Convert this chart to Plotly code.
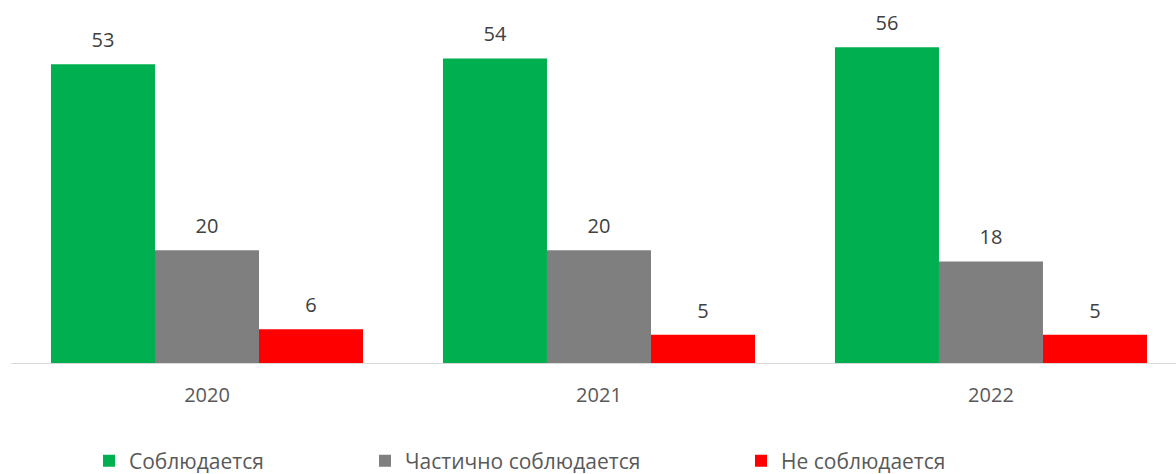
import plotly.graph_objects as go

years = ["2020", "2021", "2022"]
series_names = ["Соблюдается", "Частично соблюдается", "Не соблюдается"]
observed = [53, 54, 56]
partial = [20, 20, 18]
not_observed = [6, 5, 5]
colors = ["#00B050", "#7F7F7F", "#FF0000"]

values = [observed, partial, not_observed]
legend_ids = ["legend", "legend2", "legend3"]

fig = go.Figure()
for name, vals, col, lg in zip(series_names, values, colors, legend_ids):
    fig.add_trace(go.Bar(
        x=years, y=vals, name=name, marker=dict(color=col, line=dict(width=0)),
        legend=lg, offsetgroup=name,
    ))
for name, vals in zip(series_names, values):
    fig.add_trace(go.Scatter(
        x=years, y=vals, mode="markers+text", text=[str(v) for v in vals],
        textposition="top center", marker=dict(size=18, opacity=0),
        textfont=dict(size=20, color="#404040", family="Open Sans"),
        showlegend=False, offsetgroup=name, cliponaxis=False, hoverinfo="skip",
    ))

L, T, W, H = 11, 0, 1176, 474
plot_h = 363

def cx(px):
    return px / W

def cy(py):
    return 1 - py / H

legend_common = dict(orientation="h", yanchor="middle", xanchor="left",
                     xref="container", yref="container",
                     font=dict(size=21, color="#595959", family="Open Sans"),
                     bgcolor="rgba(0,0,0,0)", itemclick=False)

fig.update_layout(
    width=W, height=H,
    margin=dict(l=L, r=0, t=T, b=H - plot_h, pad=0, autoexpand=False),
    plot_bgcolor="white", paper_bgcolor="white",
    barmode="group", bargap=0.204, bargroupgap=0,
    scattermode="group", scattergap=0.204,
    font=dict(family="Open Sans", color="#595959"),
    xaxis=dict(type="category", range=[-0.5, 2.472], showline=True,
               linecolor="#D9D9D9", linewidth=1, ticks="", showgrid=False,
               tickfont=dict(size=20, color="#595959"), ticklabelstandoff=14,
               fixedrange=True, zeroline=False),
    yaxis=dict(visible=False, range=[0, 64.4], fixedrange=True),
    legend=dict(x=cx(89), y=cy(461), **legend_common),
    legend2=dict(x=cx(365), y=cy(461), **legend_common),
    legend3=dict(x=cx(741), y=cy(461), **legend_common),
    showlegend=True,
)

fig.write_html(
    "out.html",
    config={"displayModeBar": False},
    post_script="document.body.style.margin='0';document.body.style.overflow='hidden';",
)
